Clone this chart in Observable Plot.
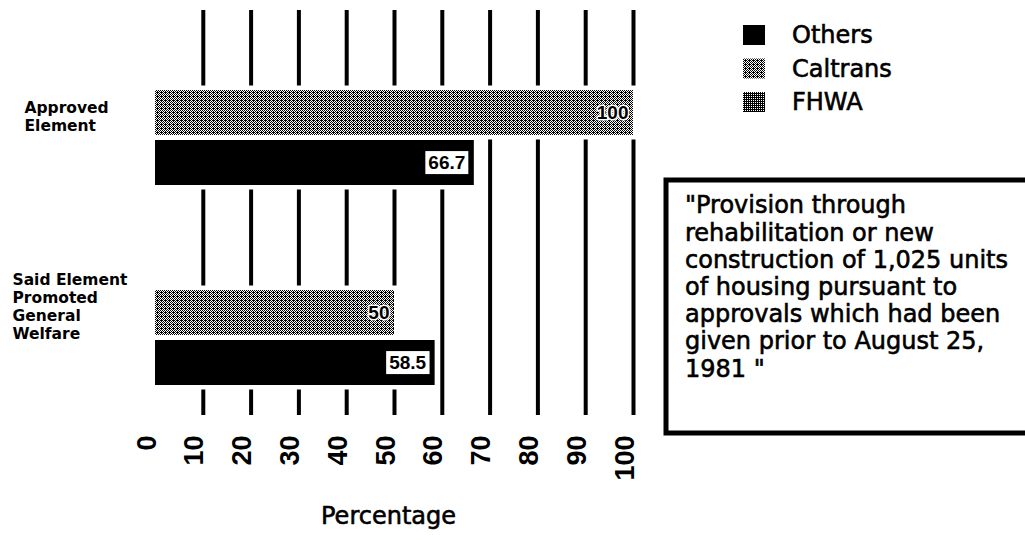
<!DOCTYPE html>
<html>
<head>
<meta charset="utf-8">
<script src="https://cdn.jsdelivr.net/npm/d3@7"></script>
<script src="https://cdn.jsdelivr.net/npm/@observablehq/plot@0.6"></script>
<style>
  body { margin: 0; background: #fff; }
  #chart { position: relative; width: 1025px; height: 540px; overflow: hidden; }
</style>
</head>
<body>
<div id="chart"></div>
<script>
// ---- data ----
const groups = ["Approved\nElement", "Said Element\nPromoted\nGeneral\nWelfare"];
const caltransValues = [100, 50];
const othersValues = [66.7, 58.5];
const legendItems = ["Others", "Caltrans", "FHWA"];
const xTicks = [0, 10, 20, 30, 40, 50, 60, 70, 80, 90, 100];
const gridTicks = [10, 20, 30, 40, 50, 60, 70, 80, 90, 100];
const xLabel = "Percentage";
const noteLines = [
  "\"Provision through",
  "rehabilitation or new",
  "construction of 1,025 units",
  "of housing pursuant to",
  "approvals which had been",
  "given prior to August 25,",
  "1981 \""
];

// ---- table built from the arrays ----
const data = groups.flatMap((g, i) => [
  {group: g, series: "Caltrans", value: caltransValues[i]},
  {group: g, series: "Others", value: othersValues[i]}
]);
const key = d => d.group + "|" + d.series;
const yDomain = [key(data[0]), key(data[1]), "spacer-1", "spacer-2", key(data[2]), key(data[3])];
const caltrans = data.filter(d => d.series === "Caltrans");
const others = data.filter(d => d.series === "Others");
const fmt = v => String(v);
const labelFont = "DejaVu Sans";

const plot = Plot.plot({
  width: 1025,
  height: 540,
  marginLeft: 155,
  marginRight: 392,
  marginTop: 10,
  marginBottom: 125,
  x: {domain: [0, 100], axis: null},
  y: {domain: yDomain, axis: null, paddingInner: 0.1, paddingOuter: 0, insetTop: 77, insetBottom: 28},
  style: {fontFamily: labelFont, background: "white", color: "black", overflow: "visible"},
  marks: [
    Plot.ruleX(gridTicks, {x: d => d, stroke: "black", strokeWidth: 4}),
    Plot.barX(data, {x: "value", y: key, fill: "white", stroke: "white", strokeWidth: 9}),
    Plot.barX(caltrans, {x: "value", y: key, fill: "url(#pat-caltrans)"}),
    Plot.barX(others, {x: "value", y: key, fill: "black"}),
    Plot.text(caltrans, {x: "value", y: key, text: d => fmt(d.value), textAnchor: "end", dx: -5,
      fontFamily: "Liberation Sans", fontWeight: "bold", fontSize: 19, fill: "black",
      stroke: "white", strokeWidth: 3, paintOrder: "stroke"}),
    Plot.text(others, {x: "value", y: key, text: d => fmt(d.value), textAnchor: "end", dx: -9,
      fontFamily: "Liberation Sans", fontWeight: "bold", fontSize: 19, fill: "black"}),
    Plot.text(groups.slice(0, 1), {y: g => g + "|Caltrans", text: g => g, frameAnchor: "left", textAnchor: "start",
      dx: -131, dy: 3, fontSize: 15.5, fontWeight: "bold", lineHeight: 1.16, fill: "black"}),
    Plot.text(groups.slice(1, 2), {y: g => g + "|Caltrans", text: g => g, frameAnchor: "left", textAnchor: "start",
      dx: -143, dy: -7, fontSize: 15.5, fontWeight: "bold", lineHeight: 1.16, fill: "black"}),
    Plot.text(xTicks, {x: d => d, text: d => String(d), frameAnchor: "bottom", rotate: -90, textAnchor: "end", dy: 20,
      fontFamily: "Liberation Sans", fontWeight: "bold", fontSize: 27, fill: "black"}),
    Plot.text([xLabel], {text: d => d, frameAnchor: "bottom", dy: 108, dx: -6, fontSize: 24, fill: "black",
      stroke: "black", strokeWidth: 0.6})
  ]
});

document.getElementById("chart").appendChild(plot);
const svg = d3.select(plot);

// patterns
const defs = svg.insert("defs", ":first-child");
const p1 = defs.append("pattern").attr("id", "pat-caltrans").attr("patternUnits", "userSpaceOnUse")
  .attr("width", 4).attr("height", 4);
p1.append("rect").attr("width", 4).attr("height", 4).attr("fill", "white");
[[0,0],[2,0],[1,1],[3,1],[0,2],[2,2],[1,3],[3,3],[1,0]].forEach(([x, y]) =>
  p1.append("rect").attr("x", x).attr("y", y).attr("width", 1).attr("height", 1).attr("fill", "black"));
const p2 = defs.append("pattern").attr("id", "pat-fhwa").attr("patternUnits", "userSpaceOnUse")
  .attr("width", 2).attr("height", 2);
p2.append("rect").attr("width", 2).attr("height", 2).attr("fill", "black");
p2.append("rect").attr("x", 1).attr("y", 0).attr("width", 1).attr("height", 1).attr("fill", "white");

// white boxes behind the Others value labels
const otherLabels = new Set(others.map(d => fmt(d.value)));
svg.selectAll("text").filter(function() { return otherLabels.has(this.textContent); }).each(function() {
  const b = this.getBBox();
  const r = document.createElementNS("http://www.w3.org/2000/svg", "rect");
  r.setAttribute("x", b.x - 3); r.setAttribute("y", b.y - 1);
  r.setAttribute("width", b.width + 6); r.setAttribute("height", b.height + 2);
  r.setAttribute("fill", "white");
  const t = this.getAttribute("transform"); if (t) r.setAttribute("transform", t);
  this.parentNode.insertBefore(r, this);
});

// legend
const fills = {Others: "black", Caltrans: "url(#pat-caltrans)", FHWA: "url(#pat-fhwa)"};
const lg = svg.append("g").attr("font-family", labelFont).attr("font-size", 24).attr("text-anchor", "start");
legendItems.forEach((name, i) => {
  const cy = 35 + i * 33.5;
  lg.append("rect").attr("x", 743).attr("y", cy - 10).attr("width", 22).attr("height", 20).attr("fill", fills[name]);
  lg.append("text").attr("x", 792).attr("y", cy).attr("dy", "0.35em").attr("fill", "black")
    .attr("stroke", "black").attr("stroke-width", 0.6).text(name);
});

// annotation box
const box = svg.append("g").attr("font-family", labelFont).attr("font-size", 24).attr("text-anchor", "start");
box.append("rect").attr("x", 666).attr("y", 180).attr("width", 380).attr("height", 253)
  .attr("fill", "none").attr("stroke", "black").attr("stroke-width", 5);
noteLines.forEach((line, i) => {
  box.append("text").attr("x", 685).attr("y", 205 + i * 27.2).attr("dy", "0.35em").attr("fill", "black")
    .attr("stroke", "black").attr("stroke-width", 0.6).text(line);
});
</script>
</body>
</html>
